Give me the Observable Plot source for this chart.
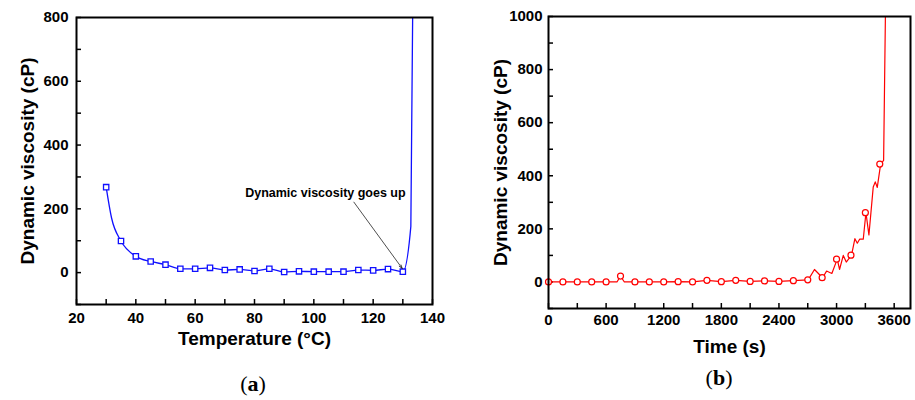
<!DOCTYPE html>
<html><head><meta charset="utf-8">
<script src="https://cdn.jsdelivr.net/npm/d3@7"></script>
<script src="https://cdn.jsdelivr.net/npm/@observablehq/plot@0.6"></script>
<style>
body{margin:0;background:#fff;}
#wrap{position:relative;width:915px;height:400px;overflow:hidden;background:#fff;}
#pa{position:absolute;left:0;top:0;}
#pb{position:absolute;left:460px;top:0;}
#wrap svg, #wrap svg g, #wrap svg text{font-weight:bold !important;font-family:"Liberation Sans",Arial,Helvetica,sans-serif !important;}
.cap{position:absolute;font-family:"Liberation Serif","DejaVu Serif",serif;font-size:22px;color:#000;transform:translate(-50%,-50%);white-space:nowrap;}
.cap b{font-weight:bold;}
</style></head><body>
<div id="wrap">
  <div id="pa"></div>
  <div id="pb"></div>
  <div class="cap" id="capA" style="left:253px;top:384px"></div>
  <div class="cap" id="capB" style="left:719px;top:378px"></div>
</div>
<script>
// ---- Panel (a): viscosity vs temperature ----
const tempLine = [30, 31.8, 35, 40, 45, 50, 55, 60, 65, 70, 75, 80, 85, 90, 95, 100, 105, 110, 115, 120, 125, 130, 132.7, 133.4];
const viscLineA = [268, 172, 99, 51, 35, 25, 12, 12, 15, 8, 10, 5, 12, 2, 4, 3, 3, 3, 8, 7, 11, 3, 145, 900];
const tempMarkers = [30, 35, 40, 45, 50, 55, 60, 65, 70, 75, 80, 85, 90, 95, 100, 105, 110, 115, 120, 125, 130];
const viscMarkersA = [268, 99, 51, 35, 25, 12, 12, 15, 8, 10, 5, 12, 2, 4, 3, 3, 3, 8, 7, 11, 3];
const xTickLabelsA = [20, 40, 60, 80, 100, 120, 140];
const xTicksA = d3.range(20, 141, 10);
const yTickLabelsA = [0, 200, 400, 600, 800];
const yTicksA = d3.range(-100, 801, 100);
const noteTextA = ["Dynamic viscosity goes up"];
const notePosA = [103.9, 251];
const noteArrowA = [[113.5, 221, 129.8, 13]];
const xTitleA = "Temperature (°C)";
const yTitle = "Dynamic viscosity (cP)";

// ---- Panel (b): viscosity vs time ----
const timeLine = [0, 150, 300, 450, 600, 713, 750, 790, 900, 1050, 1200, 1350, 1500, 1650, 1800, 1950, 2100, 2250, 2400, 2550, 2705, 2770, 2854, 2896, 2951, 3007, 3031, 3070, 3101, 3156, 3191, 3216, 3240, 3278, 3306, 3337, 3382, 3403, 3424, 3459, 3490, 3512];
const viscLineB = [0, 0, 0, 0, 0, 0, 22, 0, 0, 0, 0, 1, 0, 6, 1, 6, 2, 4, 2, 5, 8, 47, 16, 41, 32, 86, 47, 100, 75, 101, 163, 146, 161, 161, 261, 177, 358, 377, 356, 444, 458, 1100];
const timeMarkers = [0, 150, 300, 450, 600, 750, 900, 1050, 1200, 1350, 1500, 1650, 1800, 1950, 2100, 2250, 2400, 2550, 2700, 2850, 3000, 3150, 3300, 3450];
const viscMarkersB = [0, 0, 0, 0, 0, 22, 0, 0, 0, 1, 0, 6, 1, 6, 2, 4, 2, 5, 8, 16, 86, 101, 261, 444];
const xTickLabelsB = [0, 600, 1200, 1800, 2400, 3000, 3600];
const xTicksB = d3.range(0, 3700, 300);
const yTickLabelsB = [0, 200, 400, 600, 800, 1000];
const yTicksB = d3.range(-100, 1001, 100);
const xTitleB = "Time (s)";

const captions = [["(", "a", ")"], ["(", "b", ")"]];

const FONT = "Liberation Sans, Arial, Helvetica, sans-serif";
const BLUE = "#1010ff";
const RED = "#ff0000";

function zip(a, b) { return a.map((v, i) => ({x: v, y: b[i]})); }

function panel({width, height, mL, mR, mT, mB, xDomain, yDomain, xTicks, xLabels, yTicks, yLabels, padX, padY, xTitle, xTitleDy, yTitleDx, extra}) {
  const pw = width - mL - mR, ph = height - mT - mB;
  return Plot.plot({
    width, height,
    marginLeft: mL, marginRight: mR, marginTop: mT, marginBottom: mB,
    style: {fontFamily: FONT, fontSize: "15px", fontWeight: "bold", color: "#000", background: "transparent", overflow: "visible"},
    x: {domain: xDomain},
    y: {domain: yDomain},
    marks: [
      Plot.axisX({ticks: xLabels, tickSize: 0, tickPadding: padX, tickFormat: d => String(d), label: null, fontSize: 15, fontWeight: "bold", fill: "#000"}),
      Plot.axisY({ticks: yLabels, tickSize: 0, tickPadding: padY, tickFormat: d => String(d), label: null, fontSize: 15, fontWeight: "bold", fill: "#000"}),
      Plot.tickX(xTicks, {x: d => d, insetTop: ph - 5, stroke: "#000", strokeWidth: 1.5}),
      Plot.tickY(yTicks, {y: d => d, insetRight: pw - 5, stroke: "#000", strokeWidth: 1.5}),
      ...extra,
      Plot.frame({stroke: "#000", strokeWidth: 2}),
      Plot.text([xTitle], {frameAnchor: "bottom", dy: xTitleDy, text: d => d, fontSize: 19, fontWeight: "bold", fill: "#000"}),
      Plot.text([yTitle], {frameAnchor: "left", dx: yTitleDx, rotate: -90, textAnchor: "middle", text: d => d, fontSize: 19, fontWeight: "bold", fill: "#000"})
    ]
  });
}

const plotA = panel({
  width: 460, height: 360, mL: 76, mR: 28, mT: 17, mB: 56,
  xDomain: [20, 140], yDomain: [-100, 800],
  xTicks: xTicksA, xLabels: xTickLabelsA, yTicks: yTicksA, yLabels: yTickLabelsA,
  padX: 8, padY: 8, xTitle: xTitleA, xTitleDy: 40, yTitleDx: -49,
  extra: [
    Plot.line(zip(tempLine, viscLineA), {x: "x", y: "y", stroke: BLUE, strokeWidth: 1.3, curve: "monotone-x", clip: true}),
    Plot.dot(zip(tempMarkers, viscMarkersA), {x: "x", y: "y", symbol: "square", r: 3, stroke: BLUE, fill: "#fff", strokeWidth: 1.3}),
    Plot.arrow(noteArrowA, {x1: d => d[0], y1: d => d[1], x2: d => d[2], y2: d => d[3], stroke: "#222", strokeWidth: 0.8, headLength: 7, headAngle: 35}),
    Plot.text(noteTextA, {x: () => notePosA[0], y: () => notePosA[1], text: d => d, fontSize: 12.5, fontWeight: "bold", fill: "#000"})
  ]
});

const plotB = panel({
  width: 455, height: 360, mL: 88, mR: 5, mT: 16, mB: 52,
  xDomain: [0, 3770], yDomain: [-100, 1000],
  xTicks: xTicksB, xLabels: xTickLabelsB, yTicks: yTicksB, yLabels: yTickLabelsB,
  padX: 6, padY: 6, xTitle: xTitleB, xTitleDy: 44, yTitleDx: -48,
  extra: [
    Plot.line(zip(timeLine, viscLineB), {x: "x", y: "y", stroke: RED, strokeWidth: 1.2, clip: true}),
    Plot.dot(zip(timeMarkers, viscMarkersB), {x: "x", y: "y", r: 3, stroke: RED, fill: "#fff", strokeWidth: 1.2})
  ]
});

document.getElementById("pa").appendChild(plotA);
document.getElementById("pb").appendChild(plotB);

function setCap(el, parts) {
  el.appendChild(document.createTextNode(parts[0]));
  const b = document.createElement("b"); b.textContent = parts[1]; el.appendChild(b);
  el.appendChild(document.createTextNode(parts[2]));
}
setCap(document.getElementById("capA"), captions[0]);
setCap(document.getElementById("capB"), captions[1]);
</script>
</body></html>
